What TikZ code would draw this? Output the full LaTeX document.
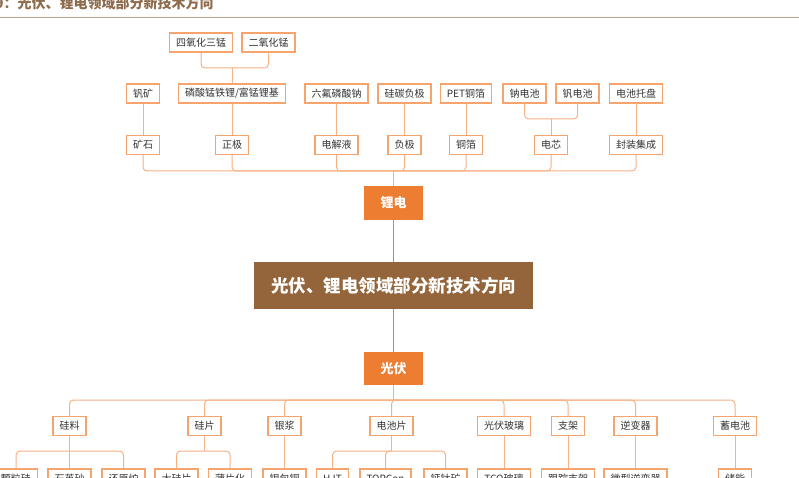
\documentclass[tikz,border=0pt]{standalone}
\usepackage{fontspec}
\setmainfont{Noto Sans CJK SC}
\usetikzlibrary{calc}
\definecolor{bord}{HTML}{F4A46C}
\definecolor{busc}{HTML}{F6B285}
\definecolor{orng}{HTML}{ED7D31}
\definecolor{brwn}{HTML}{94643A}
\definecolor{txt}{HTML}{333333}
\definecolor{ttl}{HTML}{8E6B4C}
\definecolor{sepc}{HTML}{BFA58F}
\begin{document}
\begin{tikzpicture}[x=1pt,y=-1pt,
  leaf/.style={draw=bord,line width=1.1pt,fill=white,text=txt,font=\fontsize{10}{12}\selectfont,minimum height=19pt,inner xsep=6.5pt,inner ysep=0pt},
  link/.style={draw=busc,line width=1pt,rounded corners=4pt},
  hub/.style={fill=orng,text=white,font=\fontsize{13}{15}\selectfont\bfseries,minimum width=59pt,minimum height=34pt,inner sep=0pt},
  mainbox/.style={fill=brwn,text=white,font=\fontsize{17.5}{20}\selectfont\bfseries,minimum width=279pt,minimum height=47pt,inner sep=0pt},
  strong/.style={draw=orng,line width=1.4pt}]
\useasboundingbox (0,0) rectangle (799,478);
\fill[white] (0,0) rectangle (799,478);
% title
\node[anchor=west,inner sep=0pt,text=ttl,font=\fontsize{14}{16}\selectfont\bfseries] (title) at (-19,3) {图9：光伏、锂电领域部分新技术方向};
\draw[sepc,line width=0.9pt] (0,17) -- (799,17);
% ---------- lithium tree ----------
\node[leaf] (sy) at (201,42.5) {四氧化三锰};
\node[leaf] (ey) at (268.5,42.5) {二氧化锰};
\node[leaf] (fk) at (143,93.5) {钒矿};
\node[leaf] (lm) at (232,93.5) {磷酸锰铁锂/富锰锂基};
\node[leaf] (lf) at (336.5,93.5) {六氟磷酸钠};
\node[leaf] (gt) at (404.5,93.5) {硅碳负极};
\node[leaf] (pet) at (466,93.5) {PET铜箔};
\node[leaf] (nd) at (524.5,93.5) {钠电池};
\node[leaf] (fd) at (577.5,93.5) {钒电池};
\node[leaf] (tp) at (636,93.5) {电池托盘};
\node[leaf] (ks) at (143,145) {矿石};
\node[leaf] (zj) at (232,145) {正极};
\node[leaf] (dj) at (336.5,145) {电解液};
\node[leaf] (fj) at (404.5,145) {负极};
\node[leaf] (tb) at (466,145) {铜箔};
\node[leaf] (dx) at (551,145) {电芯};
\node[leaf] (fz) at (636,145) {封装集成};
\coordinate (j1) at (232,68);
\coordinate (j2) at (551,119);
\draw[link] (lm.north) -- (j1);
\draw[link] (j1) -| (sy.south);
\draw[link] (j1) -| (ey.south);
\draw[link] (dx.north) -- (j2);
\draw[link] (j2) -| (nd.south);
\draw[link] (j2) -| (fd.south);
\draw[link] (fk.south) -- (ks.north);
\draw[link] (lm.south) -- (zj.north);
\draw[link] (lf.south) -- (dj.north);
\draw[link] (gt.south) -- (fj.north);
\draw[link] (pet.south) -- (tb.north);
\draw[link] (tp.south) -- (fz.north);
% hubs
\node[hub] (ld) at (393.5,203) {锂电};
\node[mainbox] (main) at (393.5,285.5) {光伏、锂电领域部分新技术方向};
\node[hub,minimum height=33pt] (gf) at (393.5,368.5) {光伏};
\coordinate (jt) at (393.5,171);
\draw[link] (ld.north) -- (jt);
\foreach \n in {ks,zj,dj,fj,tb,dx,fz} \draw[link] (jt) -| (\n.south);
\draw[strong] (ld.south) -- (main.north);
\draw[strong] (main.south) -- (gf.north);
% ---------- PV tree ----------
\coordinate (jb) at (393.5,400);
\draw[link] (gf.south) -- (jb);
\node[leaf] (gl) at (69.5,426) {硅料};
\node[leaf] (gp) at (204.5,426) {硅片};
\node[leaf] (yj) at (284.5,426) {银浆};
\node[leaf] (dcp) at (391.5,426) {电池片};
\node[leaf] (gfb) at (504,426) {光伏玻璃};
\node[leaf] (zjia) at (568,426) {支架};
\node[leaf] (nbq) at (635.5,426) {逆变器};
\node[leaf] (xdc) at (735,426) {蓄电池};
\foreach \n in {gl,gp,yj,dcp,gfb,zjia,nbq,xdc} \draw[link] (jb) -| (\n.north);
\node[leaf] (klg) at (16,478.5) {颗粒硅};
\node[leaf] (sys) at (69.5,478.5) {石英砂};
\node[leaf] (hyl) at (123.5,478.5) {还原炉};
\node[leaf] (dgp) at (176.5,478.5) {大硅片};
\node[leaf] (bph) at (230,478.5) {薄片化};
\node[leaf] (ybt) at (284.5,478.5) {银包铜};
\node[leaf] (hjt) at (332.5,478.5) {HJT};
\node[leaf] (top) at (385.5,478.5) {TOPCon};
\node[leaf] (gtk) at (445.5,478.5) {钙钛矿};
\node[leaf] (tco) at (504,478.5) {TCO玻璃};
\node[leaf] (gzz) at (568,478.5) {跟踪支架};
\node[leaf] (wxn) at (635.5,478.5) {微型逆变器};
\node[leaf] (cn) at (735,478.5) {储能};
\coordinate (k1) at (69.5,451);
\coordinate (k2) at (204.5,451);
\coordinate (k3) at (391.5,451);
\draw[link] (gl.south) -- (k1);
\foreach \n in {klg,sys,hyl} \draw[link] (k1) -| (\n.north);
\draw[link] (gp.south) -- (k2);
\foreach \n in {dgp,bph} \draw[link] (k2) -| (\n.north);
\draw[link] (dcp.south) -- (k3);
\foreach \n in {hjt,top,gtk} \draw[link] (k3) -| (\n.north);
\draw[link] (yj.south) -- (ybt.north);
\draw[link] (gfb.south) -- (tco.north);
\draw[link] (zjia.south) -- (gzz.north);
\draw[link] (nbq.south) -- (wxn.north);
\draw[link] (xdc.south) -- (cn.north);
\end{tikzpicture}
\end{document}
